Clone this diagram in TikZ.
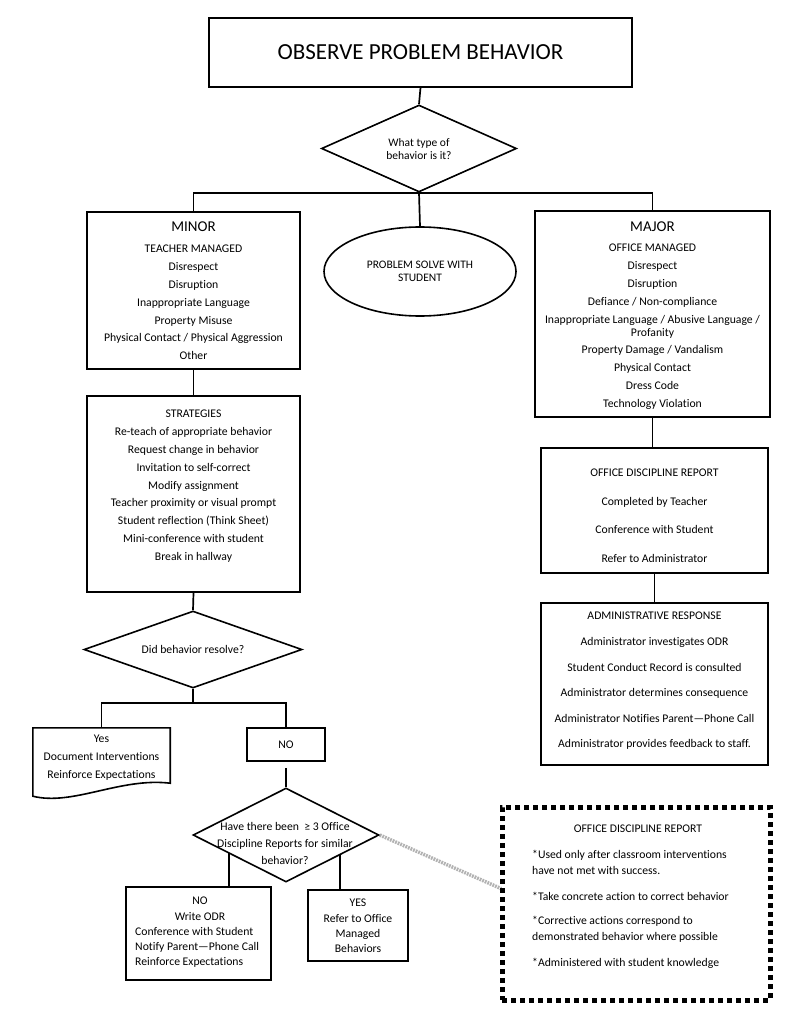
\documentclass[tikz,border=0pt]{standalone}
\usepackage{fontspec}
\setmainfont[Ligatures=NoCommon]{Carlito}
\usetikzlibrary{shapes.geometric}
\pgfdeclarelayer{canvas}
\pgfdeclarelayer{lines}
\pgfsetlayers{canvas,lines,main}
\newcommand\fstr{\rule{0pt}{9pt}}
\begin{document}
\begin{tikzpicture}[x=1pt,y=-1pt,
  box/.style={draw, line width=1.6pt, fill=white, inner sep=0pt},
  conn/.style={line width=1.7pt},
  tx/.style={align=center, inner sep=0pt, font=\fontsize{11.7}{17.8}\selectfont},
  hd/.style={inner sep=0pt, font=\fontsize{15}{18}\selectfont},
  dia/.style={draw, diamond, line width=1.6pt, fill=white, inner sep=0pt},
]
\begin{pgfonlayer}{canvas}
\fill[white] (0,0) rectangle (791,1024);
\end{pgfonlayer}
\useasboundingbox (0,0) rectangle (791,1024);

% title
\node[box, minimum width=423pt, minimum height=69pt] (title) at (420.5,52.5) {};
\node[inner sep=0pt, font=\fontsize{23}{26}\selectfont] (titleT) at (420.5,52) {OBSERVE PROBLEM BEHAVIOR};

% first decision
\node[dia, minimum width=195pt, minimum height=87pt] (d1) at (419,148.5) {};
\node[tx, font=\fontsize{11.5}{12.5}\selectfont] (d1t) at (419,149) {What type of\\behavior is it?};

% minor
\node[box, minimum width=213pt, minimum height=157pt] (minor) at (193.5,290.5) {};
\node[hd] (minorH) at (193.5,227) {MINOR};
\node[tx, anchor=north] (minorL) at (193.5,243.7) {\fstr TEACHER MANAGED\\Disrespect\\Disruption\\Inappropriate Language\\Property Misuse\\Physical Contact / Physical Aggression\\Other};

% ellipse
\node[draw, ellipse, line width=1.6pt, fill=white, minimum width=192pt, minimum height=89pt, inner sep=0pt, align=center, font=\fontsize{11.5}{13}\selectfont] (ell) at (420,271.5) {PROBLEM SOLVE WITH\\STUDENT};

% major
\node[box, line width=2pt, minimum width=235pt, minimum height=206pt] (major) at (652.5,314) {};
\node[hd] (majorH) at (652.5,227) {MAJOR};
\node[tx, anchor=north] (majorL) at (652.5,242.7) {\fstr OFFICE MANAGED\\Disrespect\\Disruption\\Defiance / Non-compliance\\Inappropriate Language / Abusive Language /\\[-4.8pt]Profanity\\Property Damage / Vandalism\\Physical Contact\\Dress Code\\Technology Violation};

% strategies
\node[box, minimum width=213pt, minimum height=196pt] (strat) at (193.5,494) {};
\node[tx, anchor=north] (stratL) at (193.5,408.7) {\fstr STRATEGIES\\Re-teach of appropriate behavior\\Request change in behavior\\Invitation to self-correct\\Modify assignment\\Teacher proximity or visual prompt\\Student reflection (Think Sheet)\\Mini-conference with student\\Break in hallway};

% second decision
\node[dia, minimum width=218pt, minimum height=77pt] (d2) at (193,649.5) {};
\node[tx] (d2t) at (193,649) {Did behavior resolve?};
\coordinate (j2) at (193,703);

% yes document
\node[inner sep=0pt, minimum width=137pt, minimum height=68pt] (yes) at (101.5,762) {};
\draw[line width=1.6pt, fill=white] (yes.north west) -- (yes.south west)
  .. controls +(40,10) and +(-50,-6) .. ([yshift=13pt]yes.south east) -- (yes.north east) -- cycle;
\node[tx, anchor=north] (yesT) at (101.5,733.7) {\fstr Yes\\Document Interventions\\Reinforce Expectations};

% no box
\node[box, minimum width=78pt, minimum height=33pt, font=\fontsize{11.7}{14}\selectfont] (no) at (286,744.5) {NO};

% third decision
\node[dia, minimum width=186pt, minimum height=94pt] (d3) at (286,835) {};
\node[tx, font=\fontsize{11.7}{17}\selectfont, anchor=north] (d3t) at (285,821.7) {\fstr Have there been\ \ ≥ 3 Office\\Discipline Reports for similar\\behavior?};
\coordinate (k1) at (229,840);
\coordinate (k2) at (340,840);

% no2 / yes2
\node[box, minimum width=145pt, minimum height=93pt] (no2) at (198.5,933.5) {};
\node[tx, font=\fontsize{11.7}{15.2}\selectfont, anchor=north] (no2T) at (200,895.7) {\fstr NO\\Write ODR};
\node[tx, align=left, font=\fontsize{11.7}{15.2}\selectfont, anchor=north west] (no2L) at (135,926.1) {\fstr Conference with Student\\Notify Parent—Phone Call\\Reinforce Expectations};
\node[box, minimum width=100pt, minimum height=71pt] (yes2) at (358,925.5) {};
\node[tx, font=\fontsize{11.7}{15.3}\selectfont, anchor=north] (yes2T) at (358,897.7) {\fstr YES\\Refer to Office\\Managed\\Behaviors};

% office discipline report
\node[box, minimum width=227pt, minimum height=125pt] (odr) at (654.5,510.5) {};
\node[tx, font=\fontsize{11.7}{28.4}\selectfont, anchor=north] (odrT) at (654.5,467.7) {\fstr OFFICE DISCIPLINE REPORT\\Completed by Teacher\\Conference with Student\\Refer to Administrator};

% administrative response
\node[box, minimum width=227pt, minimum height=162pt] (admin) at (654.5,684) {};
\node[tx, font=\fontsize{11.7}{25.6}\selectfont, anchor=north] (adminT) at (654.5,610.7) {\fstr ADMINISTRATIVE RESPONSE\\Administrator investigates ODR\\Student Conduct Record is consulted\\Administrator determines consequence\\Administrator Notifies Parent—Phone Call\\Administrator provides feedback to staff.};

% note box
\node[draw, line width=5pt, dash pattern=on 5pt off 4pt, fill=white, minimum width=268pt, minimum height=193pt, inner sep=0pt] (note) at (636,903.5) {};
\node[tx] (noteH) at (638,829) {OFFICE DISCIPLINE REPORT};
\node[tx, anchor=north west, align=left, font=\fontsize{11.7}{16}\selectfont] (noteL) at (532,849.7) {\fstr *Used only after classroom interventions\\have not met with success.\\[10pt]*Take concrete action to correct behavior\\[8pt]*Corrective actions correspond to\\demonstrated behavior where possible\\[10pt]*Administered with student knowledge};
\coordinate (nc) at (502,889);

% connectors
\begin{pgfonlayer}{lines}
\draw[conn] (title.south) -- (d1.north);
\draw[conn] (minor.north) |- (d1.south) -| (major.north);
\draw[conn] (d1.south) -- (ell.north);
\draw[conn] (minor.south) -- (strat.north);
\draw[conn] (strat.south) -- (d2.north);
\draw[conn] (d2.south) -- (j2);
\draw[conn] (yes.north) |- (j2) -| (no.north);
\draw[conn, shorten <=6pt] (no.south) -- (d3.north);
\draw[conn] (k1) -- (k1 |- no2.north);
\draw[conn] (k2) -- (k2 |- yes2.north);
\draw[conn] (major.south) -- (major.south |- odr.north);
\draw[conn] (odr.south) -- (odr.south |- admin.north);
\draw[gray!60, line width=3.5pt, dash pattern=on 1.8pt off 1pt] (d3.east) -- (nc);
\end{pgfonlayer}
\end{tikzpicture}
\end{document}
